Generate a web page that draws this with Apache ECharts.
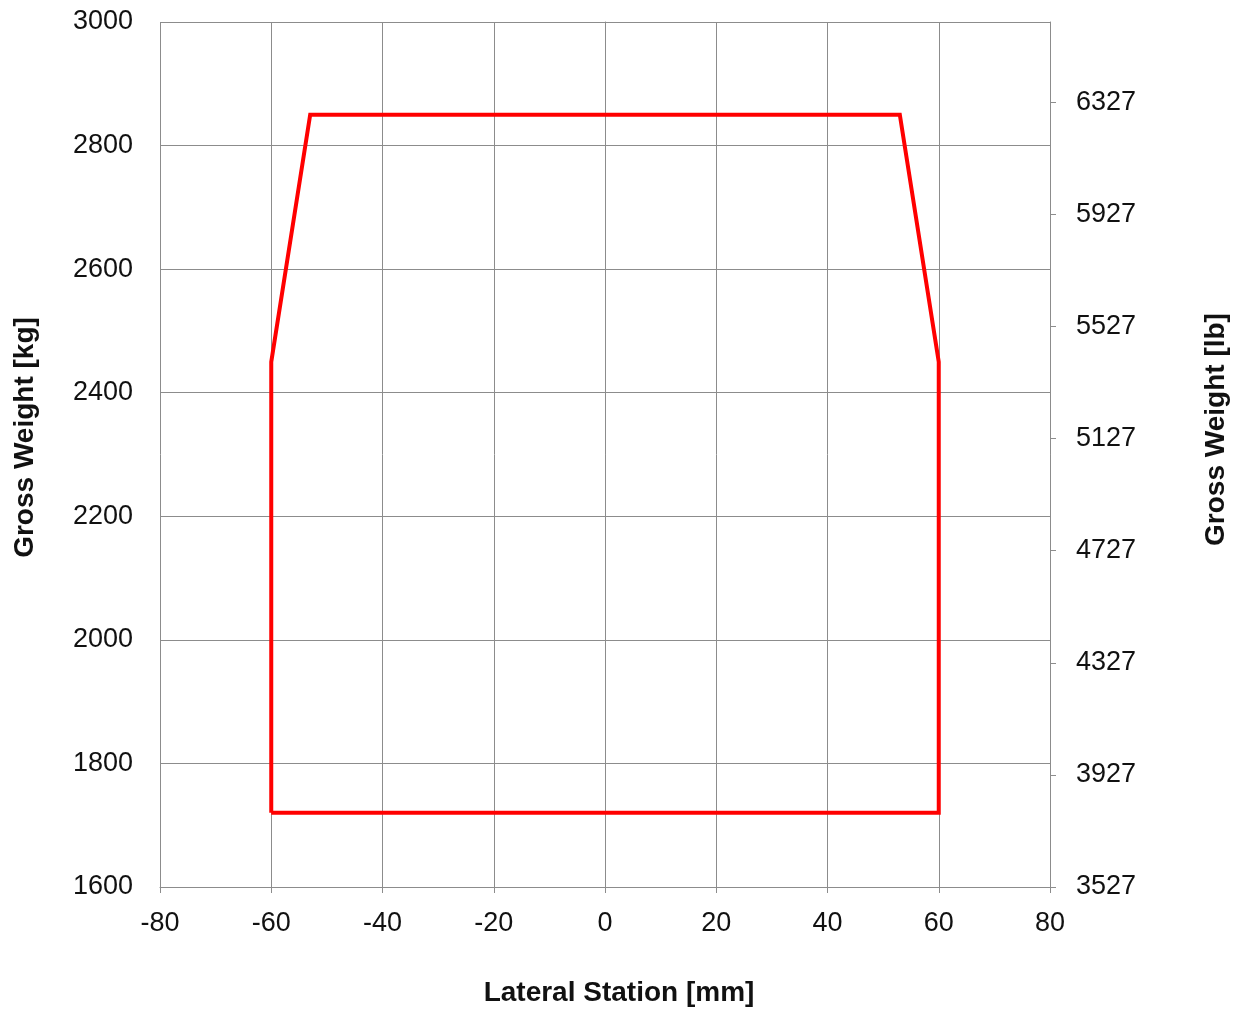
<!DOCTYPE html>
<html>
<head>
<meta charset="utf-8">
<script src="https://cdn.jsdelivr.net/npm/echarts@6/dist/echarts.min.js"></script>
<style>
  html, body { margin: 0; padding: 0; background: #fff; }
  #chart { width: 1245px; height: 1012px; }
</style>
</head>
<body>
<div id="chart"></div>
<script>
// Weight-and-balance envelope: lateral station [mm] vs gross weight [kg]
const lateralStation = [-60, -60, -53, 53, 60, 60, -60];
const grossWeightKg  = [1720, 2450, 2850, 2850, 2450, 1720, 1720];

// Secondary (pound) axis: offset from the 1600 kg baseline, labels every 400 lb
const KG_TO_LB = 2.20462;
const kgMin = 1600, kgMax = 3000;
const lbTickLabels = ['3527', '3927', '4327', '4727', '5127', '5527', '5927', '6327'];

const envelope = lateralStation.map((x, i) => [x, grossWeightKg[i]]);

const font = 'Liberation Sans, Arial, sans-serif';
const gridColor = '#8c8c8c';

const chart = echarts.init(document.getElementById('chart'), null, { renderer: 'canvas' });
chart.setOption({
  backgroundColor: '#ffffff',
  animation: false,
  grid: { left: 160, right: 195, top: 22, bottom: 125, containLabel: false },
  xAxis: {
    type: 'value',
    min: -80, max: 80, interval: 20,
    name: 'Lateral Station [mm]',
    nameLocation: 'middle',
    nameGap: 92,
    nameTextStyle: { fontFamily: font, fontSize: 28, fontWeight: 'bold', color: '#111', padding: [0, 0, 0, 28] },
    axisLine: { show: true, lineStyle: { color: gridColor, width: 1 } },
    axisTick: { show: true, length: 6, lineStyle: { color: gridColor } },
    axisLabel: { fontFamily: font, fontSize: 27, color: '#111', margin: 23, formatter: v => String(v) },
    splitLine: { show: true, lineStyle: { color: gridColor, width: 1 } }
  },
  yAxis: [
    {
      type: 'value',
      min: kgMin, max: kgMax, interval: 200,
      position: 'left',
      name: 'Gross Weight [kg]',
      nameLocation: 'middle',
      nameGap: 121,
      nameRotate: 90,
      nameTextStyle: { fontFamily: font, fontSize: 28, fontWeight: 'bold', color: '#111', padding: [0, 0, 0, 34] },
      axisLine: { show: true, lineStyle: { color: gridColor, width: 1 } },
      axisTick: { show: true, length: 6, lineStyle: { color: gridColor } },
      axisLabel: { fontFamily: font, fontSize: 27, color: '#111', margin: 27, formatter: v => String(v) },
      splitLine: { show: true, lineStyle: { color: gridColor, width: 1 } }
    },
    {
      type: 'value',
      min: 0, max: (kgMax - kgMin) * KG_TO_LB, interval: 400,
      position: 'right',
      name: 'Gross Weight [lb]',
      nameLocation: 'middle',
      nameGap: 152,
      nameRotate: 90,
      nameTextStyle: { fontFamily: font, fontSize: 28, fontWeight: 'bold', color: '#111', padding: [0, 0, 0, 50] },
      axisLine: { show: true, lineStyle: { color: gridColor, width: 1 } },
      axisTick: { show: true, length: 6, lineStyle: { color: gridColor } },
      axisLabel: {
        fontFamily: font, fontSize: 27, color: '#111', margin: 26,
        showMaxLabel: false,
        formatter: v => {
          const i = Math.round(v / 400);
          return Math.abs(v - i * 400) < 1e-6 && lbTickLabels[i] ? lbTickLabels[i] : '';
        }
      },
      splitLine: { show: false }
    }
  ],
  series: [
    {
      type: 'line',
      xAxisIndex: 0,
      yAxisIndex: 0,
      data: envelope,
      showSymbol: false,
      symbol: 'none',
      lineStyle: { color: '#ff0000', width: 4, join: 'miter' },
      z: 5
    }
  ]
});
</script>
</body>
</html>
